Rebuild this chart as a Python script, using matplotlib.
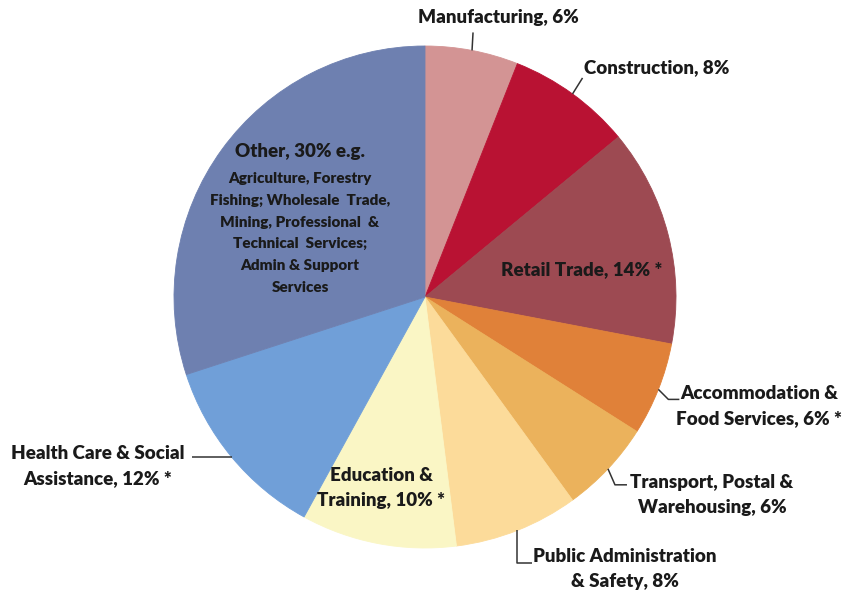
import math

import matplotlib

matplotlib.use("Agg")
import matplotlib.pyplot as plt

plt.rcParams["font.family"] = ["Lato", "DejaVu Sans"]

# Employment share by industry, clockwise from 12 o'clock
industries = [
    "Manufacturing",
    "Construction",
    "Retail Trade",
    "Accommodation & Food Services",
    "Transport, Postal & Warehousing",
    "Public Administration & Safety",
    "Education & Training",
    "Health Care & Social Assistance",
    "Other",
]
shares = [6, 8, 14, 6, 6, 8, 10, 12, 30]
labels = [
    "Manufacturing, 6%",
    "Construction, 8%",
    "Retail Trade, 14% *",
    "Accommodation &\nFood Services, 6% *",
    "Transport, Postal &\nWarehousing, 6%",
    "Public Administration\n& Safety, 8%",
    "Education &\nTraining, 10% *",
    "Health Care & Social\nAssistance, 12% *",
    "Other, 30% e.g.",
]
other_detail = (
    "Agriculture, Forestry\nFishing; Wholesale  Trade,\nMining, Professional  &\n"
    "Technical  Services;\nAdmin & Support\nServices"
)
colors = [
    "#D39494",
    "#B91233",
    "#9D4A52",
    "#E08139",
    "#EBB25C",
    "#FCDB9A",
    "#FAF6C5",
    "#709FD8",
    "#6E80B0",
]

W, H = 843, 592
CX, CY, R = 425, 295, 251

fig = plt.figure(figsize=(W / 100, H / 100), dpi=100, facecolor="white")
ax = fig.add_axes([0, 0, 1, 1])

wedges, _ = ax.pie(
    shares,
    colors=colors,
    startangle=90,
    counterclock=False,
    center=(CX, CY),
    radius=R,
    frame=True,
    wedgeprops={"linewidth": 0.6},
)
for w, c in zip(wedges, colors):
    w.set_edgecolor(c)
ax.set_xlim(0, W)
ax.set_ylim(0, H)
ax.set_aspect("equal")
ax.axis("off")

# label placement: (x, y) in pixels from the top-left, alignment, and leader
# elbows relative to the wedge's outer edge at its mid angle
layout = {
    0: ((498, 18), "center", [(0, 0), (1, 18)]),
    1: ((584, 68), "left", [(0, 0), (10, 16)]),
    2: ((582, 270), "center", None),
    3: ((759, 406), "center", [(0, 0), (10, -10), (21, -10)]),
    4: ((712, 495), "center", [(0, 0), (7, -16), (19, -16)]),
    5: ((625, 569), "center", [(0, 0), (0, -33), (15, -33)]),
    6: ((381, 488), "center", None),
    7: ((98, 466), "center", [(0, 0), (-40, 0)]),
}

LABEL_SIZE = 13.5
TEXT_KW = dict(fontweight="heavy", color="#1a1a1a", va="center",
               multialignment="center")
for i, ((px, py), ha, leader) in layout.items():
    ax.text(px, H - py, labels[i], ha=ha, fontsize=LABEL_SIZE,
            linespacing=1.55, **TEXT_KW)
    if leader:
        w = wedges[i]
        mid = math.radians((w.theta1 + w.theta2) / 2)
        ex = CX + R * math.cos(mid)
        ey = CY + R * math.sin(mid)
        xs = [ex + dx for dx, _ in leader]
        ys = [ey + dy for _, dy in leader]
        ax.plot(xs, ys, color="#333333", lw=1.1, solid_capstyle="butt")

# the large "Other" slice carries its own breakdown
ax.text(300, H - 152, labels[8], ha="center", fontsize=LABEL_SIZE, **TEXT_KW)
ax.text(300, H - 233, other_detail, ha="center", fontsize=11,
        linespacing=1.8, **TEXT_KW)

fig.savefig("out.png", dpi=100, facecolor="white")
